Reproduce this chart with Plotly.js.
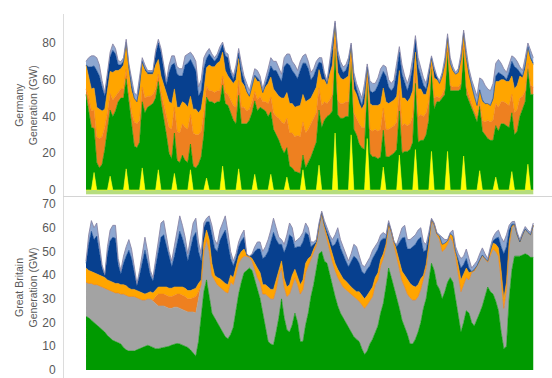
<!DOCTYPE html>
<html><head><meta charset="utf-8">
<script src="https://cdn.plot.ly/plotly-3.0.1.min.js"></script>
<style>html,body{margin:0;padding:0;background:#fff}#chart{width:552px;height:378px}</style>
</head><body><div id="chart"></div>
<script>
// Time axis: 28 days, one value every 4 hours (hours since start)
const slotsPerDay = 6, nDays = 28;
const hours = [];
for (let i = 0; i < slotsPerDay * nDays; i++) hours.push(i * 4);

// ---------------- Germany (GW), 6 values per day (00,04,08,12,16,20 h) ----------------
// thin band drawn below zero (light green)
const deBelowZero = [
-2.2,-2.2,-2.2,-2.2,-2.2,-2.2, -2.2,-2.2,-2.2,-2.2,-2.2,-2.2, -2.2,-2.2,-2.2,-2.2,-2.2,-2.2, -2.2,-2.2,-2.2,-2.2,-2.2,-2.2,
-2.2,-2.2,-2.2,-2.2,-2.2,-2.2, -2.2,-2.2,-2.2,-2.2,-2.2,-2.2, -2.2,-2.2,-2.2,-2.2,-2.2,-2.2, -2.2,-2.2,-2.2,-2.2,-2.2,-2.2,
-2.2,-2.2,-2.2,-2.2,-2.2,-2.2, -2.2,-2.2,-2.2,-2.2,-2.2,-2.2, -2.2,-2.2,-2.2,-2.2,-2.2,-2.2, -2.2,-2.2,-2.2,-2.2,-2.2,-2.2,
-2.2,-2.2,-2.2,-2.2,-2.2,-2.2, -2.2,-2.2,-2.2,-2.2,-2.2,-2.2, -2.2,-2.2,-2.2,-2.2,-2.2,-2.2, -2.2,-2.2,-2.2,-2.2,-2.2,-2.2,
-2.2,-2.2,-2.2,-2.2,-2.2,-2.2, -2.2,-2.2,-2.2,-2.2,-2.2,-2.2, -2.2,-2.2,-2.2,-2.2,-2.2,-2.2, -2.2,-2.2,-2.2,-2.2,-2.2,-2.2,
-2.2,-2.2,-2.2,-2.2,-2.2,-2.2, -2.2,-2.2,-2.2,-2.2,-2.2,-2.2, -2.2,-2.2,-2.2,-2.2,-2.2,-2.2, -2.2,-2.2,-2.2,-2.2,-2.2,-2.2,
-2.2,-2.2,-2.2,-2.2,-2.2,-2.2, -2.2,-2.2,-2.2,-2.2,-2.2,-2.2, -2.2,-2.2,-2.2,-2.2,-2.2,-2.2, -2.2,-2.2,-2.2,-2.2,-2.2,-2.2];
const deSolar = [
0,0,0,9.5,0,0, 0,0,0,7.5,0,0, 0,0,0,11.5,0,0, 0,0,0,12,0,0,
0,0,0,11,0,0, 0,0,0,9,0,0, 0,0,0,11,0,0, 0,0,0,6.5,0,0,
0,0,0,13,0,0, 0,0,0,11.5,0,0, 0,0,0,8.5,0,0, 0,0,0,8.5,0,0,
0,0,0,7,0,0, 0,0,0,11,0,0, 0,0,0,13.5,0,0, 0,0,0,31,0,0,
0,0,0,30,0,0, 0,0,0,28,0,0, 0,0,0,12.5,0,0, 0,0,0,19,0,0,
0,0,0,22,0,0, 0,0,0,21,0,0, 0,0,0,21,0,0, 0,0,0,18.5,0,0,
0,0,0,10.5,0,0, 0,0,0,7,0,0, 0,0,0,10,0,0, 0,0,0,14,0,0];
const deWind = [
52,44,34,24,15,12, 14,22,32,36,40,43, 48,50,50,49,48,35, 24,23,26,36,42,45,
46,47,50,48,48,40, 30,20,17,22,16,15, 19,16,15,14,13,12, 14,18,30,44,48,48,
47,48,48,44,47,46, 42,38,36,40,36,36, 36,38,42,40,43,45, 44,43,40,34,33,30,
27,23,20,16,13,12, 10,9.6,9,8,12,15, 18,22,26,30,34,38, 40,41,43,46,41,39,
39,40,40,40,33,30, 25,23,22,30,20,18, 18,17,18,20,18,18, 19,20,22,24,20,21,
21,22,26,36,26,27, 27,30,38,45,44,48, 48,50,52,54,54,54, 54,54,55,58,52,48,
44,40,37,35,32,30, 28,27,27,28,32,36, 36,35,34,32,30,32, 40,44,48,52,52,52];
const deLignite = [
3,6,9,10,14,16, 15,12,10,9,9,8, 5,5,5,5,5,7, 13,13,12,8,8,6,
5,5,5,4,5,7, 10,14,16,14,16,16, 17,18,18,16,18,18, 16,14,12,6,6,6,
6,6,6,5,6,6, 7,8,9,8,9,9, 7,6,6,5,6,6, 4,5,7,8,9,10,
12,14,16,16,18,19, 19,20,20,18,19,18, 18,17,16,12,12,10, 7,8,9,5,8,8,
8,8,8,3,9,9, 11,11,12,4,13,14, 15,15,15,12,15,15, 15,15,15,11,15,15,
14,14,14,8,14,14, 13,12,10,2,6,3, 2,2,3,2,3,2, 2,2,3,2,4,3,
3,3,3,3,6,7, 10,10,11,12,13,12, 12,12,12,10,12,12, 10,7,6,3,5,4];
const deCoal = [
13,12,12,12,16,16, 14,10,12,12,15,14, 12,11,13,14,12,12, 13,12,16,13,15,12,
12,11,13,8,9,10, 12,14,14,10,13,14, 12,13,12,10,13,14, 12,12,12,10,14,13,
14,15,16,13,12,10, 11,12,15,12,14,12, 10,7,8,8,10,8, 5,8,11,11,13,13,
12,13,14,14,16,16, 16,16,17,15,17,16, 14,14,14,10,14,12, 10,14,16,8,15,14,
13,13,14,5,13,13, 11,10,13,4,14,14, 13,14,14,11,15,14, 14,14,14,11,15,14,
13,14,14,9,15,14, 12,10,10,3,11,9, 8,10,13,6,12,9, 7,8,13,7,16,12,
9,8,6,6,10,10, 9,9,11,12,14,12, 12,12,13,10,13,13, 12,10,12,8,14,12];
const deGas = [
0,5,12,12,20,18, 13,7,8,8,12,9, 3,2,2,1,2,3, 0,0,4,1,1,1,
1,1,6,9,13,9, 5,16,21,14,18,17, 14,21,24,20,24,21, 9,10,12,5,6,5,
3,3,6,4,8,10, 4,2,5,3,6,2, 1,0,1,1,2,0, 0,1,4,6,10,12,
11,9,17,16,21,18, 18,15,19,17,21,17, 10,9,10,4,9,2, 1,4,9,1,9,6,
4,4,7,1,6,3, 3,2,6,1,7,7, 8,11,14,9,14,9, 6,7,13,10,13,8,
6,9,13,7,12,7, 5,3,5,1,4,1, 0,0,1,0,0,0, 0,0,0,0,0,0,
0,0,0,0,1,0, 0,0,1,3,5,3, 2,1,5,8,12,9, 2,1,2,1,1,1];
const deOther = [
2,5,6,5.5,7,6, 3.5,2,2,2.5,3.5,3, 2.4,1.8,2,1.5,1.6,3, 3,3.4,3,2,2,1,
1,1,2,2,2,2, 2.5,4,5,4,4,4, 4,5,5,4,5,5, 5,6,6,3.5,3,2,
2,2,2,1.5,2,2, 2,2,3,2.5,4,3, 4,3,3,3.5,4,3, 2,3,4,4.5,5,5,
4,4,5,5,6,5, 5,4.4,5,4,5,4, 4,4,4,2.5,3,2, 1.5,3,3,1,3,3,
3,3,3,1,3,3, 4,4,5,1.6,5.5,5, 4,4,5,3.5,5,4, 4,4,5,3,5,4,
4,4,5,2,5,4, 4,3,3,1,2,1, 1.5,2,3,2,3,2, 1,2,3,1.5,4,3,
4,4,5,6.5,11,10, 8,8,8,7,7,6, 4,4,4,3,5,4, 3,3,4,2,4,3];

// ---------------- Great Britain (GW), 6 values per day ----------------
const gbWind = [
22.6,22,21,20,19,18, 17,16,14.5,13.5,12.5,12, 11.5,11,9.5,8.5,8,8, 8,8.5,9,9.5,10,10.4,
10,9.5,9,9,9.2,9.5, 9.7,10,10.5,11,11.2,11, 10.5,10,9.5,8.5,7,5.8, 12,22,33,38,31,24,
22,20,18.6,16,14,13.2, 15,18,25,32,37,41, 42,43,42,38,34,30, 24,18,12,11,10.5,16,
22,30,22,17,16,19, 24,20,12,12,19,24, 31,36,42,49,50,46, 45,40,35,31,27,24,
22,20,18,16,14,13, 12,9,6.5,8,11,13, 16,18.6,24,28,35,43, 39,35,30,26,21,18,
15,11,11,13,16,20, 26,30,38,45,42,36, 34,30,33,37,39,37, 30,22,16,20,25,24,
20,18.6,21,24,27,31, 35,33,32,29,25,16, 9,10,30,42,48,48, 48,48.5,49,48.5,47.5,47.5];
const gbNuclear = [
14.4,14.5,15.5,16,17,17.5, 18,18.5,19.5,20,20.5,20.5, 21,21,22.5,23,23,23, 23,22,21,20,19.5,19.6,
20,19.5,19,18,17.8,17.5, 16.8,16,15.5,15.5,15.3,15, 15,15,15,16,17.5,18.2, 18,14,17,17,19,16,
16,16,16.4,18,19,19.3, 22,18,15,13,10,7, 6,4.5,4,4,5,7, 8,14,19,19,19.5,18,
18,13,13,14,16,17, 15,16,20,22,22,20, 16,14,10.5,11,16,14, 10,10,10.7,11,12,13,
13,14,15,16,17,17, 17,18.5,19.5,19.5,18,18, 20,19.4,20,19,17,18, 19,18,19,17,16.6,17,
17,19.5,18.5,16.5,15,14, 12,13,14,18,19,21, 21,20,18,16,17,17, 18,18,17,16,14,14,
21.2,23.1,22.7,22.2,21.2,15.7, 10.5,15.5,19,21,23,22, 17,24,22,18,13.5,9, 6,8.5,10.5,9.5,9.5,13.5];
const gbOil = [
0,0,0,0,0,0, 0,0,0,0,0,0, 0,0,0,0,0,0, 0,0,0,0,0,0,
0,0.5,3,5,5,5, 5,5,5,5,5.5,6, 6,6,5.5,5.5,6,7, 3,0,0,0,0,0,
0,0,0,0,0,0, 0,0,0,0,0,0, 0,0,0,0,0,0, 0,0,0,0,0,0,
0,0,0,0,0,0, 0,0,0,0,0,0, 0,0,0,0,0,0, 0,0,0,0,0,0,
0,0,0,0,0,0, 0,0,0,0,0,0, 0,0,0,0,0,0, 0,0,0,0,0,0,
0,0,0,0,0,0, 0,0,0,0,0,0, 0,0,0,0,0,0, 0,0,0,0,0,0,
0,0,0,0,0,0, 0,0,0,0,0,0, 0,0,0,0,0,0, 0,0,0,0,0,0];
const gbCoal = [
6,5.5,5,5,4.5,4.5, 4.5,4.5,4,4,4,4, 4,4,4,4,3.5,3, 3,3,3,3,2.5,2.5,
3,3,3,3,3,3, 3.5,3.5,3.5,3.5,3,3, 3.5,3.5,3.5,3.5,3.5,3.5, 3.5,2,4,4,5,5,
2,3,3.5,3.5,3.5,3.5, 3,3,3,3,3,3, 0.5,0.5,1,3,4,4, 4,4,4,4,4,4,
3,3,3.5,4,4,4, 3.5,3.5,4,4,4,3, 1,1,1,0.5,0.3,0.5, 1.5,2,2.5,3,3.5,3.5,
3.5,3.5,3,3,3,3, 4,4,4,4,4,4, 3,3,2.5,2,1,0.5, 0.5,1,1.5,3,4,5,
6,6,6,5.5,5,4.5, 2,1.5,1,0.5,0.5,0.5, 1.5,3,2.5,1.5,1.5,2.5, 2,4,5,4.5,4,3,
0.3,0.3,0.3,0.3,0.3,0.3, 0.5,1.5,2.5,3,3.5,4, 4,3,2,0.5,0,0, 0,0,0,0,0,0];
const gbGas = [
2,11,17,14,16,9, 3.5,0.8,11,17,19,19, 8,4.5,9,12.5,16,13, 7.5,2,7,13,18.5,13,
7,5,9.5,15.5,21,22, 17.5,12.5,9,13,18.5,23.5, 20.5,17,12.5,17,22,23.5, 13.5,8,6,3.5,7.5,12,
11.5,11,16,19.5,22.5,17, 7,5,4,4,4.5,5, 0,0,1.5,5,8,10, 11,12,15,20,24,17,
10,7,11,17.5,21,16, 9,12.5,16,16,13,10, 4,2,0.5,0.5,0,1, 2,3,4,8,13,11,
10,8.5,7.5,10.5,14,14, 12,10,10.5,11,11,12, 10,10,8,6.5,2.5,0.5, 0,0,1.5,8,14,16,
13,14.5,16.5,18,19,17.5, 10,6,3.5,0,0,0, 0,0,0,0,0,0, 0,2,5,4,4,2,
0,0.5,0,0,0,0, 0,0.5,1,2.5,4.5,10, 19,15,5,1,0,0, 0,0,0,0,0,0];
const gbOther = [
1,4,4.5,5,5.5,3, 1.4,0.5,3,4.5,5,5.5, 2.5,1.5,3,4,4.5,4, 2.5,1,2,3.5,5.5,4.5,
2,1.5,2.5,4.5,6,6, 4.5,3,2.5,4,5.5,6.5, 5.5,4.5,3,4.5,6,6, 4,3,2,1.5,2.5,4,
3.5,3,4.5,5,6,5, 3,2,2,2,2.5,3, 0.5,0,0.5,2,3,3, 3,4,5,5,6,5,
3,2,3.5,4.5,5,4, 2.5,3,4,4,4,3, 2,1,1,1,0.7,1.5, 1.5,2,2.8,4,4.5,3.5,
3.5,3,2.5,3.5,5,5, 3.5,3,3,3,3.5,3.5, 3,3,2.5,2.5,1.5,1, 0.5,0,1,3,4.4,5,
4,4,4,4,4,4, 4,2.5,1.5,0.5,0.5,0.5, 0.5,3,1.5,0.5,0.5,2.5, 2,3,4,3.5,4,4,
1.5,2,2,2.5,3,2, 1,1.5,1.5,2.5,3,4, 5,5,2,1,1.2,1, 1,1,1,1,1,1];

const C = {yellow:'#ffff00', green:'#009a00', darkOrange:'#ee8020', orange:'#ffa500',
           navy:'#07408f', steel:'#8ea7d0', grey:'#a3a3a3', edge:'#8a86a6', base:'#b5dd7e'};

function area(y, color, xa, ya, group, edge) {
  return {x: hours, y: y, type:'scatter', mode:'lines', stackgroup: group,
          line:{width: edge ? 0.9 : 0.6, color: edge || color}, fillcolor: color,
          xaxis: xa, yaxis: ya, hoverinfo:'skip'};
}
const data = [
  area(deBelowZero, C.base, 'x', 'y', 'deNeg'),
  area(deSolar, C.yellow, 'x', 'y', 'de'),
  area(deWind, C.green, 'x', 'y', 'de'),
  area(deLignite, C.darkOrange, 'x', 'y', 'de'),
  area(deCoal, C.orange, 'x', 'y', 'de'),
  area(deGas, C.navy, 'x', 'y', 'de'),
  area(deOther, C.steel, 'x', 'y', 'de', C.edge),
  area(gbWind, C.green, 'x2', 'y2', 'gb'),
  area(gbNuclear, C.grey, 'x2', 'y2', 'gb'),
  area(gbOil, C.darkOrange, 'x2', 'y2', 'gb'),
  area(gbCoal, C.orange, 'x2', 'y2', 'gb'),
  area(gbGas, C.navy, 'x2', 'y2', 'gb'),
  area(gbOther, C.steel, 'x2', 'y2', 'gb', C.edge)
];

const tickFont = {family:'"Liberation Sans", Arial, sans-serif', size:12, color:'#595959'};
const titleFont = {family:'"Liberation Sans", Arial, sans-serif', size:10.5, color:'#595959'};
const xr = [-32.9, 696];
const yAxisCommon = {showgrid:false, zeroline:false, showline:true, linecolor:'#dcdcdc', linewidth:1,
  ticks:'', ticklabelstandoff:5, tickfont:tickFont, ticklabeloverflow:'allow', fixedrange:true};
const layout = {
  width:552, height:378, margin:{l:64, r:0, t:0, b:0},
  paper_bgcolor:'#ffffff', plot_bgcolor:'#ffffff', showlegend:false, font:tickFont,
  xaxis:{domain:[0,1], range:xr, anchor:'y', showticklabels:false, showgrid:false, zeroline:false,
         showline:true, linecolor:'#d4d4d4', linewidth:1, ticks:''},
  xaxis2:{domain:[0,1], range:xr, anchor:'y2', showticklabels:false, showgrid:false, zeroline:false,
          showline:false, ticks:''},
  yaxis: Object.assign({}, yAxisCommon, {domain:[0.4802, 0.963], range:[-3.54, 95.78],
          tickvals:[0,20,40,60,80], anchor:'x',
          title:{text:'Germany<br>Generation (GW)', font:titleFont, standoff:2}}),
  yaxis2: Object.assign({}, yAxisCommon, {domain:[0, 0.4788], range:[-3.37, 72.95],
          tickvals:[0,10,20,30,40,50,60,70], anchor:'x2',
          title:{text:'Great Britain<br>Generation (GW)', font:titleFont, standoff:2}})
};
Plotly.newPlot('chart', data, layout, {displayModeBar:false, staticPlot:true});
</script>
</body></html>
